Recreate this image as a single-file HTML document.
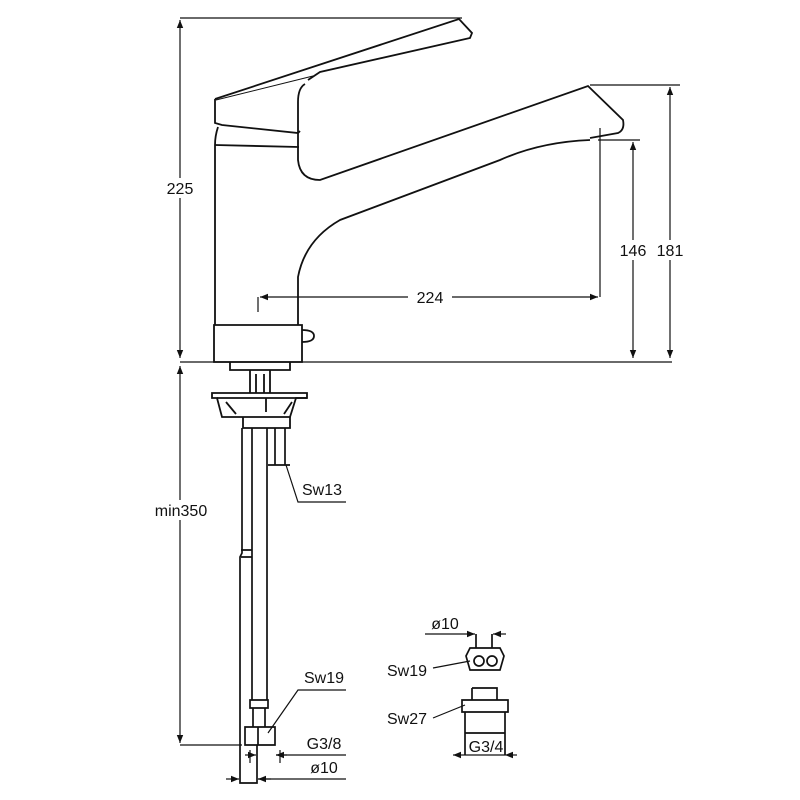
<!DOCTYPE html>
<html><head><style>body{margin:0;background:#fff}svg{display:block}text{font-family:"Liberation Sans",sans-serif;font-size:16px;fill:#111}</style></head><body>
<svg width="800" height="800" viewBox="0 0 800 800" xmlns="http://www.w3.org/2000/svg">
<defs><marker id="a" viewBox="0 0 10 10" refX="10" refY="5" markerWidth="12" markerHeight="8" markerUnits="userSpaceOnUse" orient="auto-start-reverse"><path d="M0,1L10,5L0,9z" fill="#111"/></marker></defs>
<g fill="none" stroke="#111" stroke-width="1.2">
<line x1="180" y1="18" x2="462" y2="18"/>
<line x1="180" y1="20" x2="180" y2="358" marker-start="url(#a)" marker-end="url(#a)"/>
<line x1="180" y1="362" x2="672" y2="362"/>
<line x1="180" y1="366" x2="180" y2="743" marker-start="url(#a)" marker-end="url(#a)"/>
<line x1="180" y1="745" x2="242" y2="745"/>
<line x1="590" y1="85" x2="680" y2="85"/>
<line x1="670" y1="87" x2="670" y2="358" marker-start="url(#a)" marker-end="url(#a)"/>
<line x1="598" y1="140" x2="640" y2="140"/>
<line x1="633" y1="142" x2="633" y2="358" marker-start="url(#a)" marker-end="url(#a)"/>
<line x1="600" y1="128" x2="600" y2="297"/>
<line x1="260" y1="297" x2="598" y2="297" marker-start="url(#a)" marker-end="url(#a)"/>
<line x1="258" y1="297" x2="258" y2="312"/>
<g stroke-width="1.8">
<path d="M215,99 L459,19 L472,33 L470,38 L320,72 L308,80"/>
<path d="M215,99 L215,123 L222,125 L298,133 L300,131"/>
<path d="M216,100 L313,76" stroke-width="1"/>
<path d="M218,127 Q215,136 215,145 L215,325"/>
<path d="M215,145 L299,147"/>
<path d="M305,84 Q298,88 298,102 L298,160 Q300,180 320,180 L588,86 L623,120 Q625,130 618,133 L590,138"/>
<path d="M590,140 Q540,142 500,160 L340,220 Q305,240 298,277 L298,325"/>
<path d="M214,325 L302,325 L302,362 L214,362 Z"/>
<path d="M302,330 Q314,330 314,336 Q314,342 302,342"/>
<path d="M230,362 L230,370 L290,370 L290,362"/>
<path d="M250,370 L250,393 M270,370 L270,393 M256,374 L256,393 M264,374 L264,393"/>
<path d="M212,393 L307,393 L307,398 L296,398 L290,417 L222,417 L217,398 L212,398 Z"/>
<path d="M217,398 L307,398 M226,402 L236,414 M292,402 L284,414 M266,398 L266,412"/>
<path d="M243,417 L243,428 L290,428 L290,417"/>
</g>
<g stroke-width="1.7">
<path d="M242,428 L242,553 L240,557 L240,783 L257,783 L257,745"/>
<path d="M252,428 L252,700 M267,428 L267,700"/>
<path d="M241,550 L252,550 M241,557 L252,557"/>
<path d="M275,428 L275,465 M285,428 L285,465 M268,465 L290,465"/>
<path d="M250,700 L268,700 L268,708 L250,708 Z M253,708 L253,727 M265,708 L265,727"/>
<path d="M245,727 L275,727 L275,745 L245,745 Z M258,727 L258,745"/>
<path d="M470,648 L500,648 L504,656 L500,670 L470,670 L466,656 Z"/>
<circle cx="479" cy="661" r="5"/><circle cx="492" cy="661" r="5"/>
<path d="M476,634 L476,648 M492,634 L492,648"/>
<path d="M472,688 L497,688 L497,700 M472,688 L472,700"/>
<path d="M462,700 L508,700 L508,712 L462,712 Z"/>
<path d="M465,712 L465,733 L505,733 L505,712 M465,733 L465,755 M505,733 L505,755"/>
</g>
<path d="M286,465 L298,502 L346,502"/>
<path d="M268,733 L298,690 L346,690"/>
<line x1="245" y1="755" x2="256" y2="755" marker-end="url(#a)"/>
<line x1="287" y1="755" x2="276" y2="755" marker-end="url(#a)"/>
<line x1="276" y1="755" x2="346" y2="755"/>
<line x1="250" y1="763" x2="250" y2="750"/>
<line x1="280" y1="763" x2="280" y2="750"/>
<line x1="226" y1="779" x2="239" y2="779" marker-end="url(#a)"/>
<line x1="271" y1="779" x2="258" y2="779" marker-end="url(#a)"/>
<line x1="258" y1="779" x2="346" y2="779"/>
<line x1="425" y1="634" x2="475" y2="634" marker-end="url(#a)"/>
<line x1="506" y1="634" x2="493" y2="634" marker-end="url(#a)"/>
<line x1="433" y1="668" x2="470" y2="661"/>
<line x1="433" y1="718" x2="465" y2="705"/>
<line x1="453" y1="755" x2="465" y2="755" marker-start="url(#a)"/>
<line x1="465" y1="755" x2="505" y2="755"/>
<line x1="517" y1="755" x2="505" y2="755" marker-end="url(#a)"/>
</g>
<g text-anchor="middle">
<rect x="163" y="178" width="34" height="20" fill="#fff"/><text x="180" y="194">225</text>
<rect x="148" y="500" width="66" height="20" fill="#fff"/><text x="181" y="516">min350</text>
<rect x="408" y="287" width="44" height="20" fill="#fff"/><text x="430" y="303">224</text>
<rect x="616" y="240" width="34" height="20" fill="#fff"/><text x="633" y="256">146</text>
<rect x="653" y="240" width="34" height="20" fill="#fff"/><text x="670" y="256">181</text>
<text x="322" y="495">Sw13</text>
<text x="324" y="683">Sw19</text>
<text x="324" y="749">G3/8</text>
<text x="324" y="773">ø10</text>
<text x="445" y="629">ø10</text>
<text x="407" y="676">Sw19</text>
<text x="407" y="724">Sw27</text>
<text x="486" y="752">G3/4</text>
</g>
</svg>
</body></html>
